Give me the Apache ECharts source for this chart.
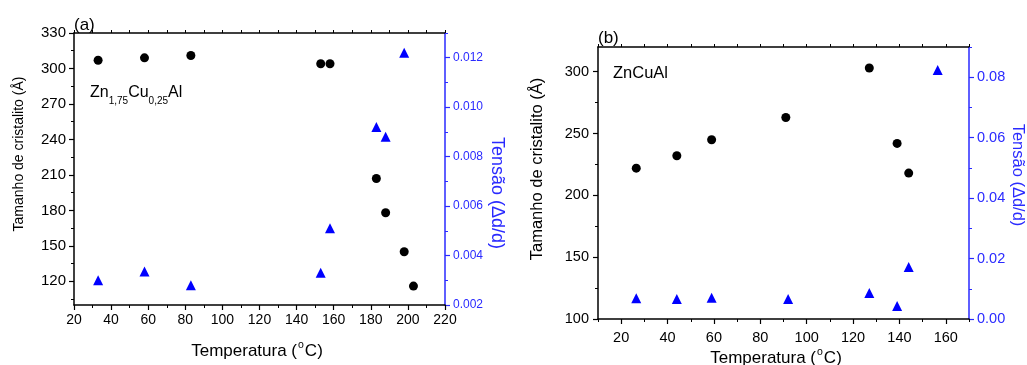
<!DOCTYPE html>
<html><head><meta charset="utf-8">
<script src="https://cdn.jsdelivr.net/npm/echarts@6/dist/echarts.min.js"></script>
<style>html,body{margin:0;padding:0;background:#fff}#c{width:1027px;height:365px}</style>
</head><body><div id="c"></div>
<script>
// ---- data ----
const aTempCircle = [33, 58, 83, 153, 158, 183, 188, 198, 203];
const aSize       = [307, 309, 311, 304, 304, 207, 178, 145, 116];
const aTempTri    = [33, 58, 83, 153, 158, 183, 188, 198];
const aStrain     = [0.0030, 0.00335, 0.0028, 0.0033, 0.0051, 0.0092, 0.0088, 0.0122];

const bTempCircle = [26.5, 44, 59, 91, 127, 139, 144];
const bSize       = [222, 232, 245, 263, 303, 242, 218];
const bTempTri    = [26.5, 44, 59, 92, 127, 139, 144, 156.5];
const bStrain     = [0.0069, 0.0066, 0.0070, 0.0066, 0.0086, 0.0043, 0.0172, 0.0824];

// ---- tick labels ----
const aXLabels      = [20, 40, 60, 80, 100, 120, 140, 160, 180, 200, 220];
const aXMinor       = [20, 30, 40, 50, 60, 70, 80, 90, 100, 110, 120, 130, 140, 150, 160, 170, 180, 190, 200, 210, 220];
const aYLabels      = [120, 150, 180, 210, 240, 270, 300, 330];
const aYMinor       = [105, 135, 165, 195, 225, 255, 285, 315];
const aY2Labels     = [0.002, 0.004, 0.006, 0.008, 0.010, 0.012];
const aY2Minor      = [0.003, 0.005, 0.007, 0.009, 0.011, 0.013];
const bXLabels      = [20, 40, 60, 80, 100, 120, 140, 160];
const bXMinor       = [10, 30, 50, 70, 90, 110, 130, 150, 170];
const bXTop         = [10, 20, 30, 40, 50, 60, 70, 80, 90, 100, 110, 120, 130, 140, 150, 160, 170];
const bYLabels      = [100, 150, 200, 250, 300];
const bYMinor       = [125, 175, 225, 275];
const bY2Labels     = [0, 0.02, 0.04, 0.06, 0.08];
const bY2Minor      = [0.01, 0.03, 0.05, 0.07, 0.09];

const FONT = 'Liberation Sans, Arial, Helvetica, sans-serif';
const BLUE = '#0000ff';
const BLUE_AX = '#2a2aff';

const zip = (xs, ys) => xs.map((x, i) => [x, ys[i]]);

function majorAxis(opts) {
  const c = opts.color || '#000';
  return {
    type: 'value', min: opts.min, max: opts.max, gridIndex: opts.grid, position: opts.position,
    axisLine: { show: true, onZero: false, lineStyle: { color: c, width: 1.5 } },
    axisTick: { show: true, length: 5, lineStyle: { color: c, width: 1.2 }, customValues: opts.ticks },
    axisLabel: { show: true, customValues: opts.labels, color: opts.labelColor || c, fontFamily: FONT,
                 fontSize: opts.fontSize || 14.5, margin: opts.margin || 8, formatter: opts.formatter },
    splitLine: { show: false }
  };
}
function minorAxis(opts) {
  const c = opts.color || '#000';
  return {
    type: 'value', min: opts.min, max: opts.max, gridIndex: opts.grid, position: opts.position,
    axisLine: { show: opts.line || false, onZero: false, lineStyle: { color: c, width: 1.5 } },
    axisTick: { show: true, length: opts.len || 3, inside: opts.inside || false,
                lineStyle: { color: c, width: 1 }, customValues: opts.ticks },
    axisLabel: { show: false },
    splitLine: { show: false }
  };
}

const chart = echarts.init(document.getElementById('c'), null, { renderer: 'canvas' });

const supTitle = (x, y) => ({
  type: 'text', x: x, y: y,
  style: {
    text: '{m|Temperatura (}{o|o}{m|C)}',
    textAlign: 'center', textVerticalAlign: 'middle', fill: '#000',
    rich: {
      m: { fontFamily: FONT, fontSize: 17, lineHeight: 17, padding: [4, 0, 0, 0], verticalAlign: 'top', fill: '#000' },
      o: { fontFamily: FONT, fontSize: 10.5, lineHeight: 11, padding: [1, 1, 0, 1], verticalAlign: 'top', fill: '#000' }
    }
  }
});

chart.setOption({
  animation: false,
  backgroundColor: '#fff',
  grid: [
    { left: 74, top: 33, width: 371, height: 272 },
    { left: 598, top: 47, width: 371, height: 272 }
  ],
  xAxis: [
    // (a) bottom
    { type: 'value', gridIndex: 0, position: 'bottom', min: 20, max: 220, interval: 20,
      axisLine: { show: true, onZero: false, lineStyle: { color: '#000', width: 1.5 } },
      axisTick: { show: true, length: 5, lineStyle: { color: '#000', width: 1.2 }, customValues: aXLabels },
      axisLabel: { customValues: aXLabels, color: '#000', fontFamily: FONT, fontSize: 14, margin: 8 },
      splitLine: { show: false } },
    minorAxis({ grid: 0, position: 'bottom', min: 20, max: 220, ticks: aXMinor, len: 3 }),
    minorAxis({ grid: 0, position: 'top', min: 20, max: 220, ticks: aXMinor, len: 3, line: true }),
    // (b) bottom
    majorAxis({ grid: 1, position: 'bottom', min: 10, max: 170, ticks: bXLabels, labels: bXLabels, margin: 11 }),
    minorAxis({ grid: 1, position: 'bottom', min: 10, max: 170, ticks: bXMinor, len: 3 }),
    minorAxis({ grid: 1, position: 'top', min: 10, max: 170, ticks: bXTop, len: 3, line: true })
  ],
  yAxis: [
    // (a) left
    majorAxis({ grid: 0, position: 'left', min: 100, max: 330, ticks: aYLabels, labels: aYLabels, fontSize: 15, margin: 8 }),
    minorAxis({ grid: 0, position: 'left', min: 100, max: 330, ticks: aYMinor, len: 3 }),
    // (a) right
    majorAxis({ grid: 0, position: 'right', min: 0.002, max: 0.013, ticks: aY2Labels, labels: aY2Labels,
                color: BLUE_AX, labelColor: BLUE_AX, fontSize: 12, margin: 8, formatter: v => v.toFixed(3) }),
    minorAxis({ grid: 0, position: 'right', min: 0.002, max: 0.013, ticks: aY2Minor, len: 3, color: BLUE_AX }),
    // (b) left
    majorAxis({ grid: 1, position: 'left', min: 100, max: 320, ticks: bYLabels, labels: bYLabels, margin: 9 }),
    minorAxis({ grid: 1, position: 'left', min: 100, max: 320, ticks: bYMinor, len: 3 }),
    // (b) right
    majorAxis({ grid: 1, position: 'right', min: 0, max: 0.09, ticks: bY2Labels, labels: bY2Labels,
                color: BLUE_AX, labelColor: BLUE_AX, margin: 8, formatter: v => v.toFixed(2) }),
    minorAxis({ grid: 1, position: 'right', min: 0, max: 0.09, ticks: bY2Minor, len: 3, color: BLUE_AX })
  ],
  series: [
    { type: 'scatter', xAxisIndex: 0, yAxisIndex: 0, data: zip(aTempCircle, aSize),
      symbol: 'circle', symbolSize: 9, itemStyle: { color: '#000', opacity: 1 } },
    { type: 'scatter', xAxisIndex: 0, yAxisIndex: 2, data: zip(aTempTri, aStrain),
      symbol: 'triangle', symbolSize: 10, itemStyle: { color: BLUE, opacity: 1 } },
    { type: 'scatter', xAxisIndex: 3, yAxisIndex: 4, data: zip(bTempCircle, bSize),
      symbol: 'circle', symbolSize: 9, itemStyle: { color: '#000', opacity: 1 } },
    { type: 'scatter', xAxisIndex: 3, yAxisIndex: 6, data: zip(bTempTri, bStrain),
      symbol: 'triangle', symbolSize: 10, itemStyle: { color: BLUE, opacity: 1 } }
  ],
  graphic: [
    { type: 'text', x: 74, y: 25, style: { text: '(a)', font: '17px ' + FONT, fill: '#000', textVerticalAlign: 'middle' } },
    { type: 'text', x: 598, y: 38, style: { text: '(b)', font: '17px ' + FONT, fill: '#000', textVerticalAlign: 'middle' } },
    { type: 'text', x: 90, y: 85, style: {
        text: '{m|Zn}{s|1,75}{m|Cu}{s|0,25}{m|Al}', fill: '#000', textVerticalAlign: 'top',
        rich: {
          m: { fontFamily: FONT, fontSize: 16, lineHeight: 16, verticalAlign: 'top', fill: '#000' },
          s: { fontFamily: FONT, fontSize: 10, lineHeight: 10, padding: [11, 0, 0, 0], verticalAlign: 'top', fill: '#000' }
        } } },
    { type: 'text', x: 613, y: 73, style: { text: 'ZnCuAl', font: '16.5px ' + FONT, fill: '#000', textVerticalAlign: 'middle' } },
    // axis titles
    { type: 'text', x: 19, y: 154, rotation: Math.PI / 2,
      style: { text: 'Tamanho de cristalito (Å)', font: '14px ' + FONT, fill: '#000', textAlign: 'center', textVerticalAlign: 'middle' } },
    { type: 'text', x: 497, y: 193, rotation: -Math.PI / 2,
      style: { text: 'Tensão (Δd/d)', font: '18px ' + FONT, fill: BLUE_AX, textAlign: 'center', textVerticalAlign: 'middle' } },
    supTitle(257, 347),
    { type: 'text', x: 537, y: 169, rotation: Math.PI / 2,
      style: { text: 'Tamanho de cristalito (Å)', font: '16.5px ' + FONT, fill: '#000', textAlign: 'center', textVerticalAlign: 'middle' } },
    { type: 'text', x: 1018, y: 175, rotation: -Math.PI / 2,
      style: { text: 'Tensão (Δd/d)', font: '16.5px ' + FONT, fill: BLUE_AX, textAlign: 'center', textVerticalAlign: 'middle' } },
    supTitle(776, 354)
  ]
});
</script></body></html>
